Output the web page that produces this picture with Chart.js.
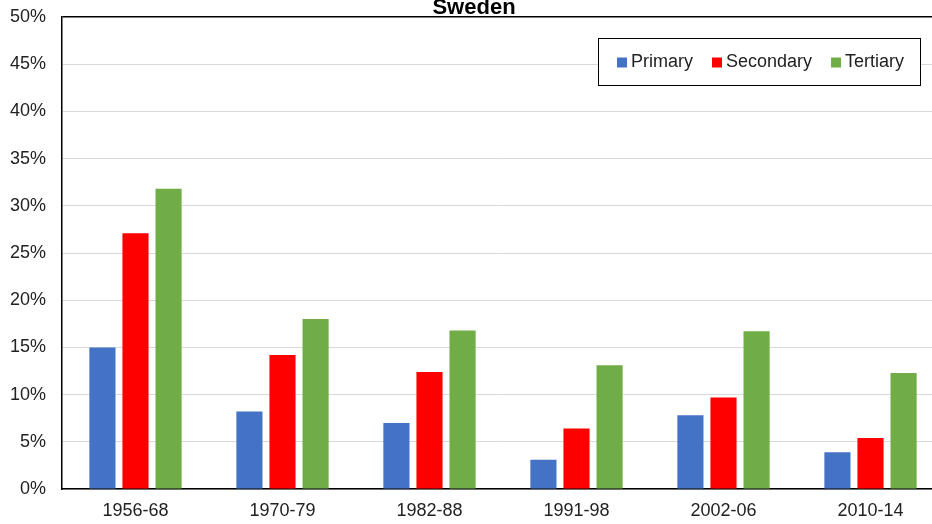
<!DOCTYPE html>
<html>
<head>
<meta charset="utf-8">
<script src="https://cdn.jsdelivr.net/npm/chart.js@4.4.0/dist/chart.umd.min.js"></script>
<style>
  html, body { margin: 0; padding: 0; background: #fff; overflow: hidden; }
  #wrap { width: 944px; height: 524px; position: relative; }
</style>
</head>
<body>
<div id="wrap"><canvas id="chart"></canvas></div>
<script>
// Periods and sector shares (%)
const periods = ['1956-68', '1970-79', '1982-88', '1991-98', '2002-06', '2010-14'];
const primary = [15.0, 8.2, 7.0, 3.1, 7.8, 3.9];
const secondary = [27.1, 14.2, 12.4, 6.4, 9.7, 5.4];
const tertiary = [31.8, 18.0, 16.8, 13.1, 16.7, 12.3];
const yTicks = [0, 5, 10, 15, 20, 25, 30, 35, 40, 45, 50];

const FONT = '"Liberation Sans", Arial, sans-serif';

// Title and boxed legend inside the plot area
const overlay = {
  id: 'overlay',
  afterDraw(chart) {
    const ctx = chart.ctx;
    ctx.save();
    ctx.fillStyle = '#000';
    ctx.font = 'bold 22px ' + FONT;
    ctx.textAlign = 'center';
    ctx.textBaseline = 'alphabetic';
    ctx.fillText('Sweden', 474, 14);

    const bx = 598, by = 38, bw = 322, bh = 47;
    ctx.fillStyle = '#fff';
    ctx.fillRect(bx, by, bw, bh);
    ctx.strokeStyle = '#000';
    ctx.lineWidth = 1;
    ctx.strokeRect(bx + 0.5, by + 0.5, bw, bh);

    ctx.font = '18px ' + FONT;
    ctx.textAlign = 'left';
    ctx.textBaseline = 'middle';
    let x = bx + 19;
    const cy = by + bh / 2 + 1;
    chart.data.datasets.forEach(ds => {
      ctx.fillStyle = ds.backgroundColor;
      ctx.fillRect(x, cy - 5, 10, 10);
      ctx.fillStyle = '#222';
      ctx.fillText(ds.label, x + 14, cy);
      x += 14 + ctx.measureText(ds.label).width + 19;
    });
    ctx.restore();
  }
};

new Chart(document.getElementById('chart'), {
  type: 'bar',
  data: {
    labels: periods,
    datasets: [
      { label: 'Primary', data: primary, backgroundColor: '#4472C4' },
      { label: 'Secondary', data: secondary, backgroundColor: '#FF0000' },
      { label: 'Tertiary', data: tertiary, backgroundColor: '#70AD47' }
    ]
  },
  options: {
    responsive: true,
    maintainAspectRatio: false,
    animation: false,
    layout: { padding: { top: 17, left: 0, right: 0, bottom: 0 } },
    datasets: { bar: { categoryPercentage: 0.675, barPercentage: 0.79 } },
    plugins: {
      legend: { display: false },
      tooltip: { enabled: false }
    },
    scales: {
      x: {
        grid: { display: false, drawTicks: false },
        border: { color: '#000', width: 1.5 },
        ticks: { color: '#222', font: { family: FONT, size: 18 }, padding: 11 },
        afterFit: s => { s.height = 35; s.paddingLeft = 0; s.paddingRight = 0; }
      },
      y: {
        min: 0,
        max: 50,
        afterBuildTicks: s => { s.ticks = yTicks.map(v => ({ value: v })); },
        grid: {
          drawTicks: false,
          color: c => (c.tick && c.tick.value === 50 ? '#000' : '#d9d9d9'),
          lineWidth: c => (c.tick && c.tick.value === 50 ? 1.5 : 1)
        },
        border: { color: '#000', width: 1.5 },
        ticks: {
          color: '#222',
          font: { family: FONT, size: 18 },
          padding: 16,
          callback: v => v + '%'
        },
        afterFit: s => { s.width = 62; s.paddingTop = 0; s.paddingBottom = 0; }
      }
    }
  },
  plugins: [overlay]
});
</script>
</body>
</html>
